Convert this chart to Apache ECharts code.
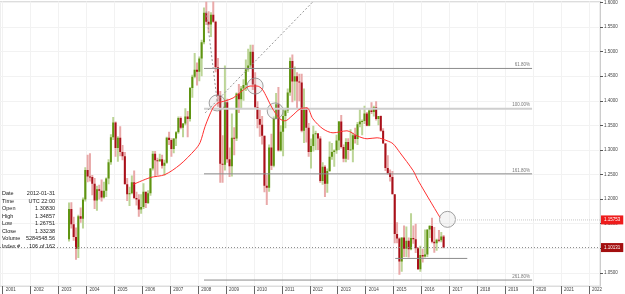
<!DOCTYPE html>
<html>
<head>
<meta charset="utf-8">
<script src="https://cdn.jsdelivr.net/npm/echarts@6/dist/echarts.min.js"></script>
<style>
html,body{margin:0;padding:0;background:#fff;}
#main{width:625px;height:294px;}
</style>
</head>
<body>
<div id="main"></div>
<script>
// monthly bars, first bar = 2003-05
var startYear = 2003, startMonth = 5;
var opens = [
  1.1180,1.1800,1.1490,1.1230,1.0990,1.1650,1.1600,1.1990,
  1.2590,1.2460,1.2450,1.2310,1.1970,1.2200,1.2170,1.2030,1.2170,1.2420,1.2750,1.3260,
  1.3560,1.3040,1.3250,1.2960,1.2870,1.2300,1.2100,1.2120,1.2340,1.2020,1.1990,1.1790,
  1.1840,1.2150,1.1920,1.2120,1.2620,1.2920,1.2790,1.2770,1.2810,1.2680,1.2740,1.3250,
  1.3200,1.3020,1.3230,1.3360,1.3650,1.3450,1.3540,1.3680,1.3630,1.4260,1.4490,1.4630,
  1.4590,1.4860,1.5190,1.5790,1.5610,1.5550,1.5750,1.5610,1.4680,1.4100,1.2720,1.2700,
  1.3970,1.2810,1.2670,1.3250,1.3230,1.4150,1.4030,1.4250,1.4320,1.4640,1.4720,1.5000,
  1.4330,1.3870,1.3630,1.3510,1.3290,1.2270,1.2230,1.3050,1.2680,1.3630,1.3930,1.2990,
  1.3370,1.3690,1.3800,1.4170,1.4810,1.4390,1.4500,1.4390,1.4370,1.3390,1.3860,1.3450,
  1.2960,1.3080,1.3320,1.3340,1.3230,1.2370,1.2660,1.2310,1.2570,1.2860,1.2960,1.2990,
  1.3190,1.3580,1.3060,1.2820,1.3160,1.3000,1.3010,1.3300,1.3220,1.3520,1.3580,1.3590,
  1.3740,1.3490,1.3800,1.3770,1.3870,1.3630,1.3690,1.3390,1.3130,1.2630,1.2530,1.2450,
  1.2100,1.1290,1.1200,1.0730,1.1220,1.0990,1.1150,1.0980,1.1210,1.1180,1.1000,1.0570,
  1.0860,1.0830,1.0870,1.1380,1.1450,1.1130,1.1100,1.1170,1.1160,1.1240
];
var highs = [
  1.1932,1.1933,1.1640,1.1420,1.1680,1.1830,1.2030,1.2650,
  1.2900,1.2930,1.2490,1.2430,1.2270,1.2290,1.2400,1.2350,1.2440,1.2810,1.3320,1.3670,
  1.3580,1.3280,1.3480,1.3100,1.2960,1.2430,1.2250,1.2480,1.2580,1.2150,1.2100,1.2100,
  1.2320,1.2150,1.2180,1.2630,1.2980,1.2980,1.2840,1.2920,1.2900,1.2800,1.3270,1.3370,
  1.3240,1.3240,1.3380,1.3680,1.3680,1.3550,1.3850,1.3790,1.4280,1.4530,1.4970,1.4780,
  1.4900,1.5240,1.5900,1.6020,1.5820,1.5800,1.6040,1.5630,1.4870,1.4200,1.3300,1.4720,
  1.4040,1.3050,1.3740,1.3460,1.4170,1.4340,1.4300,1.4440,1.4840,1.5060,1.5140,1.5140,
  1.4580,1.3990,1.3820,1.3690,1.3290,1.2490,1.3110,1.3330,1.3680,1.4160,1.4280,1.3500,
  1.3860,1.3860,1.4250,1.4880,1.4940,1.4700,1.4580,1.4550,1.4550,1.4250,1.3870,1.3550,
  1.3230,1.3490,1.3390,1.3280,1.3280,1.2750,1.2690,1.2620,1.3170,1.3140,1.3010,1.3310,
  1.3590,1.3710,1.3110,1.3240,1.3240,1.3420,1.3350,1.3450,1.3570,1.3830,1.3620,1.3900,
  1.3770,1.3830,1.3970,1.3900,1.3990,1.3690,1.3700,1.3440,1.3140,1.2890,1.2600,1.2570,
  1.2100,1.1530,1.1220,1.1220,1.1460,1.1440,1.1220,1.1710,1.1460,1.1500,1.1020,1.1050,
  1.0990,1.1380,1.1380,1.1470,1.1620,1.1430,1.1190,1.1370,1.1330,1.1270
];
var lows = [
  1.1135,1.1400,1.1150,1.0765,1.0800,1.1520,1.1400,1.1950,
  1.2340,1.2360,1.2080,1.1800,1.1760,1.1990,1.1950,1.2010,1.2040,1.2300,1.2700,1.3200,
  1.2860,1.2760,1.2870,1.2790,1.2300,1.1960,1.1860,1.2100,1.2000,1.1870,1.1640,1.1700,
  1.1800,1.1820,1.1900,1.2070,1.2580,1.2460,1.2480,1.2760,1.2620,1.2480,1.2720,1.3100,
  1.2860,1.2930,1.3080,1.3330,1.3420,1.3260,1.3500,1.3260,1.3580,1.4060,1.4460,1.4310,
  1.4400,1.4500,1.5150,1.5540,1.5380,1.5300,1.5590,1.4580,1.3880,1.2330,1.2330,1.2580,
  1.2740,1.2450,1.2460,1.2890,1.3180,1.3750,1.3850,1.4000,1.4200,1.4590,1.4660,1.4220,
  1.3860,1.3440,1.3270,1.3110,1.2140,1.1880,1.2150,1.2590,1.2650,1.3630,1.2970,1.2970,
  1.2870,1.3440,1.3750,1.4100,1.3970,1.4000,1.3840,1.3990,1.3360,1.3140,1.3150,1.2860,
  1.2620,1.2970,1.3000,1.3000,1.2330,1.2290,1.2040,1.2130,1.2550,1.2800,1.2660,1.2920,
  1.3000,1.3030,1.2750,1.2750,1.2800,1.3000,1.2750,1.3130,1.3100,1.3460,1.3300,1.3530,
  1.3480,1.3480,1.3730,1.3680,1.3600,1.3500,1.3370,1.3130,1.2570,1.2500,1.2360,1.2100,
  1.1100,1.1100,1.0460,1.0520,1.0820,1.0820,1.0810,1.0960,1.1090,1.0900,1.0560,1.0520,
  1.0710,1.0810,1.0820,1.1210,1.1100,1.0910,1.0950,1.1120,1.1120,1.1000
];
var closes = [
  1.1800,1.1490,1.1230,1.0990,1.1650,1.1600,1.1990,1.2590,
  1.2460,1.2450,1.2310,1.1970,1.2200,1.2170,1.2030,1.2170,1.2420,1.2750,1.3260,1.3560,
  1.3040,1.3250,1.2960,1.2870,1.2300,1.2100,1.2120,1.2340,1.2020,1.1990,1.1790,1.1840,
  1.2150,1.1920,1.2120,1.2620,1.2920,1.2790,1.2770,1.2810,1.2680,1.2740,1.3250,1.3200,
  1.3020,1.3230,1.3360,1.3650,1.3450,1.3540,1.3680,1.3630,1.4260,1.4490,1.4630,1.4590,
  1.4860,1.5190,1.5790,1.5610,1.5550,1.5750,1.5610,1.4680,1.4100,1.2720,1.2700,1.3970,
  1.2810,1.2670,1.3250,1.3230,1.4150,1.4030,1.4250,1.4320,1.4640,1.4720,1.5000,1.4330,
  1.3870,1.3630,1.3510,1.3290,1.2270,1.2230,1.3050,1.2680,1.3630,1.3930,1.2990,1.3370,
  1.3690,1.3800,1.4170,1.4810,1.4390,1.4500,1.4390,1.4370,1.3390,1.3860,1.3450,1.2960,
  1.3080,1.3320,1.3340,1.3230,1.2370,1.2660,1.2310,1.2570,1.2860,1.2960,1.2990,1.3190,
  1.3580,1.3060,1.2820,1.3160,1.3000,1.3010,1.3300,1.3220,1.3520,1.3580,1.3590,1.3740,
  1.3490,1.3800,1.3770,1.3870,1.3630,1.3690,1.3390,1.3130,1.2630,1.2530,1.2450,1.2100,
  1.1290,1.1200,1.0730,1.1220,1.0990,1.1150,1.0980,1.1210,1.1180,1.1000,1.0570,1.0860,
  1.0830,1.0870,1.1380,1.1450,1.1130,1.1100,1.1170,1.1160,1.1240,1.1013
];

// moving average (x in years)
var maYears = [2005.67,2006.28,2006.81,2007.35,2007.89,2008.07,2008.25,2008.53,2008.71,2008.96,
  2009.25,2009.57,2009.86,2010.11,2010.29,2010.47,2010.65,2010.93,2011.11,2011.36,2011.65,2011.90,
  2012.11,2012.47,2012.83,2013.33,2013.69,2014.05,2014.41,2014.77,2014.98,2015.23,2015.70,2015.88,2016.66];
var maValues = [1.2296,1.2437,1.2498,1.2700,1.3004,1.3150,1.3480,1.3854,1.3955,1.3996,
  1.4057,1.4198,1.4300,1.4300,1.4239,1.4057,1.3854,1.3632,1.3591,1.3692,1.3834,1.3854,
  1.3632,1.3429,1.3348,1.3389,1.3287,1.3227,1.3247,1.3186,1.3125,1.2943,1.2579,1.2377,1.1628];

// fibonacci levels
var fibNames = ['61.80%','100.00%','161.80%','261.80%'];
var fibLevels = [1.4658,1.3840,1.2513,1.0352];
var fibFrom = 2008.21, fibTo = 2019.96;
var shortLevel = 1.0792, shortFrom = 2015.06, shortTo = 2017.64;

// trend lines
var steepLine = [[2008.29,1.5818],[2008.68,1.3996]];
var diagLine = [[2008.25,1.3753],[2012.12,1.6020]];

// circles
var circles = [[2008.68,1.3956],[2010.04,1.4300],[2010.76,1.3794],[2016.93,1.1587]];

var lastPrice = 1.10131, maPrice = 1.15753;
var yearTicks = [];
for (var y = 2001; y <= 2022; y++) yearTicks.push(y);
var priceTicks = [1.05,1.10,1.15,1.20,1.25,1.30,1.35,1.40,1.45,1.50,1.55,1.60];

var infoLabels = ['Date','Time','Open','High','Low','Close','Volume','Index #'];
var infoValues = ['2012-01-31','UTC 22:00','1.30830','1.34857','1.26751','1.33238','5284548.56','106 of 162'];

var xMin = 2000.903, xMax = 2022.393;

function monthX(i) {
  return startYear + (startMonth - 1 + i + 0.5) / 12;
}
var candles = opens.map(function (o, i) {
  return [monthX(i), o, closes[i], lows[i], highs[i]];
});
var maData = maYears.map(function (x, i) { return [x, maValues[i]]; });

var myChart = echarts.init(document.getElementById('main'));
var fontName = 'Liberation Sans';

var series = [];
// fib lines
fibLevels.forEach(function (v, i) {
  series.push({
    type: 'line', symbol: 'none', silent: true,
    data: [[fibFrom, v], [fibTo, v]],
    lineStyle: i === 1 ? {color: '#cfcfcf', width: 2} : {color: '#8c8c8c', width: 1}
  });
});
series.push({
  type: 'line', symbol: 'none', silent: true,
  data: [[shortFrom, shortLevel], [shortTo, shortLevel]],
  lineStyle: {color: '#8c8c8c', width: 1}
});
series.push({
  type: 'scatter', symbolSize: 0, silent: true,
  data: fibLevels.map(function (v, i) { return [fibTo, v, fibNames[i]]; }),
  label: {
    show: true, position: 'top', align: 'right', distance: 1, offset: [-2, 0],
    formatter: function (p) { return p.value[2]; },
    fontSize: 4.5, color: '#555', fontFamily: fontName
  }
});
// dotted price lines
series.push({
  type: 'line', symbol: 'none', silent: true,
  data: [[xMin, lastPrice], [xMax, lastPrice]],
  lineStyle: {color: '#888', width: 1, type: [1, 2]},
  endLabel: {
    show: true, distance: 1, formatter: lastPrice.toFixed(5),
    backgroundColor: '#a30f0f', color: '#fff', fontSize: 4.5, padding: [2, 3],
    fontFamily: fontName
  }
});
series.push({
  type: 'line', symbol: 'none', silent: true,
  data: [[2017.2, maPrice], [xMax, maPrice]],
  lineStyle: {color: '#c8c8c8', width: 1, type: [1, 1]},
  endLabel: {
    show: true, distance: 1, formatter: maPrice.toFixed(5),
    backgroundColor: '#ee1c1c', color: '#fff', fontSize: 4.5, padding: [2, 3],
    fontFamily: fontName
  }
});
// trend lines
series.push({type: 'line', symbol: 'none', silent: true, data: steepLine,
  lineStyle: {color: '#999', width: 1, type: [2, 2]}});
series.push({type: 'line', symbol: 'none', silent: true, data: diagLine,
  lineStyle: {color: '#999', width: 1, type: [2, 2]}});
// candles
series.push({
  type: 'custom', clip: true,
  data: candles,
  encode: {x: 0, y: [1, 2, 3, 4]},
  renderItem: function (params, api) {
    var x = api.value(0), o = api.value(1), c = api.value(2), l = api.value(3), h = api.value(4);
    var pH = api.coord([x, h]), pL = api.coord([x, l]);
    var pO = api.coord([x, o]), pC = api.coord([x, c]);
    var up = c >= o;
    var top = Math.min(pO[1], pC[1]);
    var bh = Math.max(1, Math.abs(pO[1] - pC[1]));
    return {
      type: 'group',
      children: [
        {type: 'rect', shape: {x: pH[0] - 1, y: pH[1], width: 2, height: pL[1] - pH[1]},
          style: {fill: up ? '#bcd597' : '#e9a9a9'}},
        {type: 'rect', shape: {x: pH[0] - 1, y: top, width: 2, height: bh},
          style: {fill: up ? '#5f9412' : '#a8101a'}}
      ]
    };
  }
});
// moving average
series.push({
  type: 'line', symbol: 'none', smooth: 0.3, silent: true, data: maData,
  lineStyle: {color: '#ff3030', width: 1}
});
// circles
series.push({
  type: 'scatter', symbol: 'circle', symbolSize: 16, silent: true, data: circles,
  itemStyle: {color: 'rgba(200,200,200,0.25)', borderColor: '#8a8a8a', borderWidth: 1}
});

// info box (crosshair readout)
var graphics = [];
infoLabels.forEach(function (t, i) {
  var yc = Math.round(193.3 + i * 7.5);
  graphics.push({type: 'text', x: 2, y: yc, z: 100,
    style: {text: t, fontSize: 5.5, fill: '#222', fontFamily: fontName,
      align: 'left', verticalAlign: 'middle'}});
  graphics.push({type: 'text', x: 55, y: yc, z: 100,
    style: {text: infoValues[i], fontSize: 5.5, fill: '#222', fontFamily: fontName,
      align: 'right', verticalAlign: 'middle'}});
});

var option = {
  animation: false,
  backgroundColor: '#fff',
  grid: {left: 0, right: 25, top: 0, bottom: 8, show: true, borderColor: '#dddddd', borderWidth: 1},
  xAxis: {
    type: 'value', min: xMin, max: xMax,
    axisLine: {show: true, lineStyle: {color: '#dddddd'}},
    axisTick: {show: true, customValues: yearTicks, length: 8, lineStyle: {color: '#666'}},
    axisLabel: {customValues: yearTicks, fontSize: 4.5, color: '#444', align: 'left',
      verticalAlign: 'middle', margin: 4, padding: [0, 0, 0, 3], fontFamily: fontName,
      formatter: function (v) { return String(Math.round(v)); }},
    splitLine: {show: true, lineStyle: {color: '#f2f2f2'}}
  },
  yAxis: {
    type: 'value', position: 'right', min: 1.0231, max: 1.602,
    axisLine: {show: true, lineStyle: {color: '#cccccc'}},
    axisTick: {show: true, customValues: priceTicks, length: 3, lineStyle: {color: '#555'}},
    axisLabel: {customValues: priceTicks, fontSize: 4.5, color: '#444', margin: 4, fontFamily: fontName,
      formatter: function (v) { return v.toFixed(4); }},
    splitLine: {show: true, lineStyle: {color: '#f2f2f2'}}
  },
  graphic: graphics,
  series: series
};
myChart.setOption(option);
</script>
</body>
</html>
